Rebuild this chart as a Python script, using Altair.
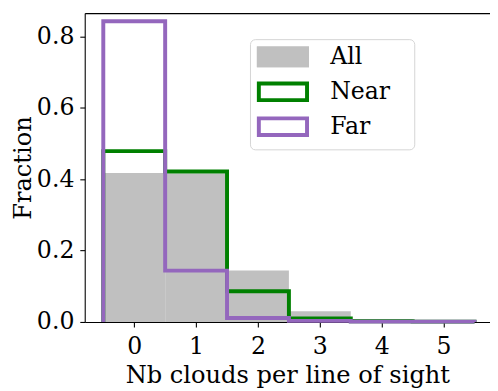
import altair as alt
import pandas as pd

# ---- data ----
nb_clouds = [0, 1, 2, 3, 4, 5]
frac_all = [0.418, 0.416, 0.144, 0.030, 0.008, 0.002]
frac_near = [0.479, 0.422, 0.086, 0.010, 0.002, 0.001]
frac_far = [0.843, 0.144, 0.011, 0.003, 0.001, 0.001]
series_names = ["All", "Near", "Far"]
series_colors = ["#c0c0c0", "#008000", "#9467bd"]
y_ticks = [0.0, 0.2, 0.4, 0.6, 0.8]
x_ticks = nb_clouds

FONT = "DejaVu Serif"
FS = 24

bars_df = pd.DataFrame({"nb": nb_clouds, "frac": frac_all, "series": "All"})


def step_points(values, name):
    # histogram "step" outline built from bin edges (bin centre +/- 0.5)
    rows = [{"x": nb_clouds[0] - 0.5, "y": 0.0}]
    for n, v in zip(nb_clouds, values):
        rows.append({"x": n - 0.5, "y": v})
        rows.append({"x": n + 0.5, "y": v})
    rows.append({"x": nb_clouds[-1] + 0.5, "y": 0.0})
    df = pd.DataFrame(rows)
    df["order"] = range(len(df))
    df["series"] = name
    return df


near_df = step_points(frac_near, "Near")
far_df = step_points(frac_far, "Far")

xscale = alt.Scale(domain=[-0.8, 5.75], nice=False, zero=False)
yscale = alt.Scale(domain=[0, 0.866], nice=False, zero=False)
stroke_scale = alt.Scale(domain=series_names, range=series_colors)
fill_scale = alt.Scale(domain=["All"], range=[series_colors[0]])

y_axis = alt.Axis(values=y_ticks, format=".1f", title="Fraction",
                  titlePadding=1, grid=False)

legend_common = dict(
    orient="none",
    legendX=168,
    legendY=26.5,
    padding=6,
    rowPadding=1.5,
    symbolType="M-3.5,-1.214H3.5V1.214H-3.5Z",
    symbolSize=196,
    symbolOffset=15.5,
    labelOffset=36,
    labelFont=FONT,
    labelFontSize=FS,
    labelColor="black",
    labelExpr="datum.label + '\u2800'",
    title=None,
)

stroke_legend = alt.Legend(
    **legend_common,
    strokeColor="#d4d4d4",
    fillColor="rgba(255,255,255,0.8)",
    cornerRadius=5,
    symbolFillColor="transparent",
    symbolStrokeWidth=4,
    zindex=1,
)
fill_legend = alt.Legend(
    **legend_common,
    symbolStrokeColor=series_colors[0],
    symbolStrokeWidth=4,
    labelOpacity=0,
    zindex=2,
)

bar_layer = (
    alt.Chart(bars_df)
    .transform_calculate(x0="datum.nb - 0.5", x1="datum.nb + 0.5")
    .mark_rect()
    .encode(
        x=alt.X(
            "x0:Q",
            scale=xscale,
            axis=alt.Axis(orient="top", labels=False, ticks=False, domain=True,
                          title=None, grid=False),
        ),
        x2="x1:Q",
        y=alt.Y("frac:Q", scale=yscale, axis=y_axis),
        y2=alt.datum(0),
        fill=alt.Fill("series:N", scale=fill_scale, legend=fill_legend),
    )
)

near_layer = (
    alt.Chart(near_df)
    .mark_line(strokeWidth=4, strokeJoin="miter", strokeCap="butt")
    .encode(
        x=alt.X(
            "x:Q",
            scale=xscale,
            axis=alt.Axis(orient="bottom", values=x_ticks, format="d",
                          title="Nb clouds per line of sight", titlePadding=6,
                          labelPadding=8, grid=False),
        ),
        y=alt.Y("y:Q", scale=yscale, axis=y_axis),
        order="order:Q",
        stroke=alt.Stroke("series:N", scale=stroke_scale, legend=stroke_legend),
    )
)

far_layer = (
    alt.Chart(far_df)
    .mark_line(strokeWidth=4, strokeJoin="miter", strokeCap="butt")
    .encode(
        x=alt.X("x:Q", scale=xscale, axis=None),
        y=alt.Y("y:Q", scale=yscale, axis=y_axis),
        order="order:Q",
        stroke=alt.Stroke("series:N", scale=stroke_scale, legend=stroke_legend),
    )
)

chart = (
    alt.layer(bar_layer, near_layer, far_layer)
    .resolve_axis(x="independent")
    .properties(
        width=412,
        height=314,
        autosize=alt.AutoSizeParams(type="none"),
        padding={"left": 78, "top": 2, "right": 0, "bottom": 67},
    )
    .configure_view(stroke=None)
    .configure_axis(
        labelFont=FONT,
        labelFontSize=FS,
        labelColor="black",
        titleFont=FONT,
        titleFontSize=24.5,
        titleFontWeight="normal",
        titleColor="black",
        domainColor="black",
        domainWidth=1.1,
        tickColor="black",
        tickWidth=1.1,
        tickSize=5,
        labelPadding=6,
    )
)

chart.save("out.html", embed_options={"renderer": "svg", "actions": False})
